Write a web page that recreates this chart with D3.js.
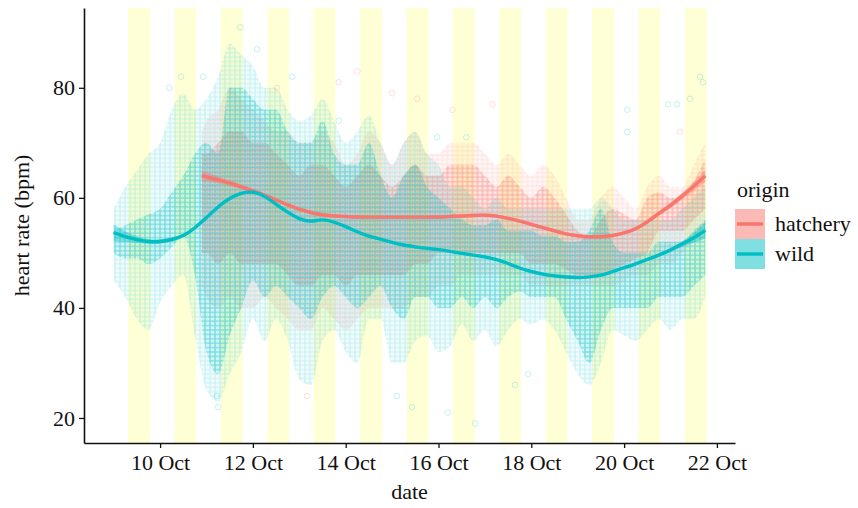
<!DOCTYPE html>
<html>
<head>
<meta charset="utf-8">
<script src="https://cdn.jsdelivr.net/npm/d3@7"></script>
<style>
  body { margin: 0; background: #fff; }
  svg text { font-family: "Liberation Serif", "Times New Roman", Times, "DejaVu Serif", serif; fill: #111; }
</style>
</head>
<body>
<svg id="chart" width="858" height="508"></svg>
<script>
// heart-rate data (day = fractional day of October)

// daylight bands: one per day, sunrise / sunset as fraction of a day
const bandDays = [9, 10, 11, 12, 13, 14, 15, 16, 17, 18, 19, 20, 21];
const sunrise = 0.31;
const sunset = 0.78;

// x tick labels
const tickDays = [10, 12, 14, 16, 18, 20, 22];
const yTicks = [20, 40, 60, 80];

// wild fish: point cloud envelope (outer range and dense core) every 6 h
const wildDays = [9, 9.25, 9.5, 9.75, 10, 10.25, 10.5, 10.75, 11, 11.25, 11.5, 11.75, 12, 12.25, 12.5, 12.75,
  13, 13.25, 13.5, 13.75, 14, 14.25, 14.5, 14.75, 15, 15.25, 15.5, 15.75, 16, 16.25, 16.5, 16.75,
  17, 17.25, 17.5, 17.75, 18, 18.25, 18.5, 18.75, 19, 19.25, 19.5, 19.75, 20, 20.25, 20.5, 20.75,
  21, 21.25, 21.5, 21.75];
const wildLo = [45, 42, 38, 36, 41, 44, 46, 35, 25, 23, 28, 32, 38, 34, 38, 34, 27, 26, 34, 36, 32, 30, 38, 38, 30, 30,
  34, 35, 32, 33, 37, 34, 36, 33, 36, 38, 37, 38, 36, 32, 28, 26, 30, 36, 35, 34, 36, 38, 36, 38, 38, 42];
const wildHi = [58, 62, 65, 68, 70, 76, 79, 76, 78, 82, 88, 86, 84, 80, 80, 76, 74, 75, 78, 74, 70, 72, 75, 70, 66, 70,
  72, 68, 66, 62, 62, 60, 58, 60, 58, 58, 58, 58, 58, 58, 58, 58, 60, 58, 56, 56, 56, 56, 56, 58, 60, 62];
const wildCoreLo = [50, 49, 49, 48, 49, 51, 53, 46, 32, 28, 35, 40, 45, 42, 44, 42, 40, 38, 42, 44, 42, 40, 42, 44, 40, 38,
  42, 42, 40, 40, 42, 40, 42, 40, 42, 43, 42, 42, 42, 38, 34, 30, 36, 40, 40, 40, 40, 42, 42, 42, 44, 46];
const wildCoreHi = [54, 55, 56, 57, 58, 61, 64, 68, 70, 68, 80, 80, 78, 76, 76, 72, 70, 70, 74, 68, 66, 66, 70, 64, 60, 64,
  66, 62, 60, 58, 56, 55, 55, 56, 54, 54, 54, 53, 53, 52, 52, 54, 58, 52, 50, 50, 50, 52, 52, 52, 54, 56];
// wild smoother and its standard error
const wildFit = [53.7, 52.9, 52.4, 52.0, 52.0, 52.4, 53.0, 54.5, 56.4, 58.4, 60.0, 60.9, 61.2, 60.4, 58.8, 57.4,
  56.1, 55.6, 56.2, 55.6, 54.8, 53.8, 53.0, 52.5, 51.9, 51.4, 51.1, 50.8, 50.6, 50.3, 49.9, 49.6,
  49.3, 48.8, 48.1, 47.2, 46.6, 46.1, 45.8, 45.6, 45.5, 45.6, 45.9, 46.6, 47.3, 48.0, 48.8, 49.6,
  50.5, 51.6, 52.7, 54.1];
const wildSe = [1.5, 0.9, 0.6, 0.45, 0.4, 0.35, 0.35, 0.3, 0.3, 0.3, 0.3, 0.3, 0.3, 0.3, 0.3, 0.3,
  0.25, 0.25, 0.25, 0.25, 0.25, 0.25, 0.25, 0.25, 0.25, 0.25, 0.25, 0.25, 0.25, 0.25, 0.25, 0.25,
  0.25, 0.25, 0.25, 0.25, 0.25, 0.25, 0.25, 0.25, 0.25, 0.25, 0.25, 0.25, 0.3, 0.3, 0.3, 0.35,
  0.4, 0.5, 0.8, 1.5];
// scattered single readings of wild fish
const wildOutDays = [11.73, 12.09, 10.93, 12.85, 13.85, 15.1, 15.43, 16.2, 16.79, 17.65, 17.93, 11.25, 11.22,
  21.64, 21.7, 21.42, 20.95, 21.14, 20.07, 15.97, 16.6, 20.07, 10.2, 10.45];
const wildOutHr = [91, 87, 82, 82, 74, 24, 22, 21, 19, 26, 28, 22, 24,
  82, 81, 78, 77, 77, 76, 71, 71, 72, 80, 82];

// hatchery fish: point cloud envelope every 6 h
const hatchDays = [10.9, 11, 11.25, 11.5, 11.75, 12, 12.25, 12.5, 12.75, 13, 13.25, 13.5, 13.75, 14, 14.25,
  14.5, 14.75, 15, 15.25, 15.5, 15.75, 16, 16.25, 16.5, 16.75, 17, 17.25, 17.5, 17.75, 18, 18.25,
  18.5, 18.75, 19, 19.25, 19.5, 19.75, 20, 20.25, 20.5, 20.75, 21, 21.25, 21.5, 21.75];
const hatchLo = [44, 42, 40, 42, 40, 40, 42, 40, 38, 36, 36, 40, 38, 36, 38, 40, 40, 40, 40, 42, 42, 44, 44,
  46, 46, 46, 46, 46, 46, 44, 44, 44, 44, 44, 44, 44, 44, 45, 46, 46, 48, 48, 50, 52, 55];
const hatchHi = [72, 74, 76, 80, 78, 76, 74, 72, 72, 70, 70, 72, 70, 66, 68, 72, 70, 66, 70, 72, 68, 68, 70,
  70, 70, 68, 66, 68, 66, 64, 66, 64, 60, 56, 56, 60, 62, 60, 58, 62, 64, 62, 62, 66, 70];
const hatchCoreLo = [50, 50, 48, 50, 48, 48, 48, 48, 46, 44, 44, 46, 46, 44, 46, 46, 46, 46, 46, 48, 48, 50, 50,
  50, 50, 50, 50, 50, 50, 48, 48, 48, 47, 46, 46, 46, 47, 48, 49, 50, 54, 54, 54, 56, 58];
const hatchCoreHi = [68, 68, 70, 72, 72, 70, 70, 68, 66, 64, 66, 66, 64, 62, 64, 66, 64, 62, 64, 66, 64, 64, 66,
  66, 66, 64, 62, 64, 62, 60, 62, 60, 57, 54, 53, 56, 58, 57, 56, 60, 61, 60, 60, 63, 67];
const hatchFit = [64.0, 63.8, 63.3, 62.7, 62.0, 61.3, 60.5, 59.6, 58.7, 57.9, 57.3, 56.9, 56.7, 56.6, 56.5,
  56.5, 56.5, 56.5, 56.5, 56.5, 56.5, 56.5, 56.6, 56.7, 56.8, 56.9, 56.7, 56.3, 55.8, 55.2, 54.6,
  54.0, 53.4, 53.1, 52.9, 52.9, 53.1, 53.6, 54.3, 55.6, 57.2, 58.6, 60.3, 62.1, 64.0];
const hatchSe = [1.0, 0.8, 0.6, 0.5, 0.4, 0.35, 0.3, 0.3, 0.3, 0.3, 0.3, 0.3, 0.3, 0.3, 0.3,
  0.3, 0.3, 0.3, 0.3, 0.3, 0.3, 0.3, 0.3, 0.3, 0.3, 0.3, 0.3, 0.3, 0.3, 0.3, 0.3,
  0.3, 0.3, 0.3, 0.3, 0.3, 0.3, 0.3, 0.35, 0.4, 0.45, 0.5, 0.6, 0.8, 1.1];
const hatchOutDays = [14.25, 13.85, 12.52, 15.0, 15.54, 17.16, 21.2, 13.17, 16.3];
const hatchOutHr = [83, 81, 80, 79, 78, 77, 72, 24, 76];

const colors = { hatchery: "#F8766D", wild: "#00BFC4" };
const serif = "'Liberation Serif', 'Times New Roman', Times, 'DejaVu Serif', serif";
const fontSize = "22px";

// turn a fractional October day into a date
function toDate(day) {
  return new Date(Date.UTC(2016, 9, 1) + (day - 1) * 864e5);
}

// plot panel
const panel = { left: 84, right: 735, top: 8, bottom: 443 };

const svg = d3.select("#chart");

const x = d3.scaleUtc()
  .domain([toDate(8.36), toDate(22.39)])
  .range([panel.left, panel.right]);

const y = d3.scaleLinear()
  .domain([15.45, 94.5])
  .range([panel.bottom, panel.top]);

// pattern of little open circles so the clouds look like stacked points
const defs = svg.append("defs");
function makePattern(id, color, op, shift) {
  const w = 5, h = 4.4;
  const p = defs.append("pattern")
    .attr("id", id)
    .attr("patternUnits", "userSpaceOnUse")
    .attr("width", w)
    .attr("height", h)
    .attr("x", shift)
    .attr("y", shift / 2);
  for (let dx = -1; dx <= 1; dx++) {
    for (let dy = -1; dy <= 1; dy++) {
      p.append("circle")
        .attr("cx", w / 2 + dx * w)
        .attr("cy", h / 2 + dy * h)
        .attr("r", 2.8)
        .attr("fill", "none")
        .attr("stroke", color)
        .attr("stroke-opacity", op)
        .attr("stroke-width", 0.8);
    }
  }
}
makePattern("wildOuter", colors.wild, 0.12, 0);
makePattern("wildCore", colors.wild, 0.28, 0);
makePattern("hatchOuter", colors.hatchery, 0.12, 2.5);
makePattern("hatchCore", colors.hatchery, 0.3, 2.5);

const clip = defs.append("clipPath").attr("id", "panelClip");
clip.append("rect")
  .attr("x", panel.left)
  .attr("y", panel.top)
  .attr("width", panel.right - panel.left)
  .attr("height", panel.bottom - panel.top);

const plot = svg.append("g").attr("clip-path", "url(#panelClip)");

// daylight bands
plot.selectAll(".band")
  .data(bandDays)
  .enter()
  .append("rect")
  .attr("class", "band")
  .attr("x", d => x(toDate(d + sunrise)))
  .attr("width", d => x(toDate(d + sunset)) - x(toDate(d + sunrise)))
  .attr("y", panel.top)
  .attr("height", panel.bottom - panel.top)
  .attr("fill", "#ffffd6");

// point clouds
function drawCloud(days, lo, hi, coreLo, coreHi, color, outerId, coreId) {
  const rows = days.map((d, i) => ({ day: d, lo: lo[i], hi: hi[i], clo: coreLo[i], chi: coreHi[i] }));
  const outer = d3.area()
    .x(d => x(toDate(d.day)))
    .y0(d => y(d.lo))
    .y1(d => y(d.hi))
    .curve(d3.curveMonotoneX);
  const core = d3.area()
    .x(d => x(toDate(d.day)))
    .y0(d => y(d.clo))
    .y1(d => y(d.chi))
    .curve(d3.curveMonotoneX);
  plot.append("path").datum(rows).attr("d", outer).attr("fill", color).attr("fill-opacity", 0.05);
  plot.append("path").datum(rows).attr("d", outer).attr("fill", `url(#${outerId})`);
  plot.append("path").datum(rows).attr("d", core).attr("fill", color).attr("fill-opacity", 0.12);
  plot.append("path").datum(rows).attr("d", core).attr("fill", `url(#${coreId})`);
}
drawCloud(hatchDays, hatchLo, hatchHi, hatchCoreLo, hatchCoreHi, colors.hatchery, "hatchOuter", "hatchCore");
drawCloud(wildDays, wildLo, wildHi, wildCoreLo, wildCoreHi, colors.wild, "wildOuter", "wildCore");

// single scattered readings
function drawOutliers(days, hr, color) {
  plot.selectAll(null)
    .data(days.map((d, i) => ({ day: d, hr: hr[i] })))
    .enter()
    .append("circle")
    .attr("cx", d => x(toDate(d.day)))
    .attr("cy", d => y(d.hr))
    .attr("r", 2.8)
    .attr("fill", "none")
    .attr("stroke", color)
    .attr("stroke-opacity", 0.25)
    .attr("stroke-width", 0.9);
}
drawOutliers(hatchOutDays, hatchOutHr, colors.hatchery);
drawOutliers(wildOutDays, wildOutHr, colors.wild);

// smoothers with confidence ribbons
function drawSmooth(days, fit, se, color) {
  const rows = days.map((d, i) => ({ day: d, fit: fit[i], se: se[i] }));
  plot.append("path")
    .datum(rows)
    .attr("d", d3.area()
      .x(d => x(toDate(d.day)))
      .y0(d => y(d.fit - d.se))
      .y1(d => y(d.fit + d.se))
      .curve(d3.curveBasis))
    .attr("fill", color)
    .attr("fill-opacity", 0.4);
  plot.append("path")
    .datum(rows)
    .attr("d", d3.line()
      .x(d => x(toDate(d.day)))
      .y(d => y(d.fit))
      .curve(d3.curveBasis))
    .attr("fill", "none")
    .attr("stroke", color)
    .attr("stroke-width", 3.4);
}
drawSmooth(hatchDays, hatchFit, hatchSe, colors.hatchery);
drawSmooth(wildDays, wildFit, wildSe, colors.wild);

// axes
const xAxis = svg.append("g")
  .attr("transform", `translate(0,${panel.bottom})`)
  .call(d3.axisBottom(x)
    .tickValues(tickDays.map(toDate))
    .tickFormat(d3.utcFormat("%-d Oct"))
    .tickSizeInner(5)
    .tickSizeOuter(0)
    .tickPadding(6));

const yAxis = svg.append("g")
  .attr("transform", `translate(${panel.left},0)`)
  .call(d3.axisLeft(y)
    .tickValues(yTicks)
    .tickSizeInner(5)
    .tickSizeOuter(0)
    .tickPadding(4));

[xAxis, yAxis].forEach(a => {
  a.attr("font-family", serif);
  a.select(".domain").attr("stroke", "#111").attr("stroke-width", 1.6);
  a.selectAll(".tick line").attr("stroke", "#111").attr("stroke-width", 1.3);
  a.selectAll(".tick text")
    .attr("fill", "#111")
    .style("font-family", serif)
    .style("font-size", fontSize);
});

// axis titles
svg.append("text")
  .attr("x", (panel.left + panel.right) / 2)
  .attr("y", 499)
  .attr("text-anchor", "middle")
  .style("font-family", serif)
  .style("font-size", fontSize)
  .text("date");

svg.append("text")
  .attr("transform", "rotate(-90)")
  .attr("x", -(panel.top + panel.bottom) / 2)
  .attr("y", 29)
  .attr("text-anchor", "middle")
  .style("font-family", serif)
  .style("font-size", fontSize)
  .text("heart rate (bpm)");

// legend
const legend = svg.append("g").attr("transform", "translate(735,0)");
legend.append("text")
  .attr("x", 2)
  .attr("y", 197)
  .style("font-family", serif)
  .style("font-size", fontSize)
  .text("origin");

const keys = [
  { name: "hatchery", color: colors.hatchery, top: 209 },
  { name: "wild", color: colors.wild, top: 239 }
];
keys.forEach(k => {
  legend.append("rect")
    .attr("x", 0)
    .attr("y", k.top)
    .attr("width", 30)
    .attr("height", 30)
    .attr("fill", k.color)
    .attr("fill-opacity", 0.5);
  legend.append("line")
    .attr("x1", 2)
    .attr("x2", 28)
    .attr("y1", k.top + 15)
    .attr("y2", k.top + 15)
    .attr("stroke", k.color)
    .attr("stroke-width", 3.4);
  legend.append("text")
    .attr("x", 40)
    .attr("y", k.top + 22)
    .style("font-family", serif)
    .style("font-size", fontSize)
    .text(k.name);
});
</script>
</body>
</html>
